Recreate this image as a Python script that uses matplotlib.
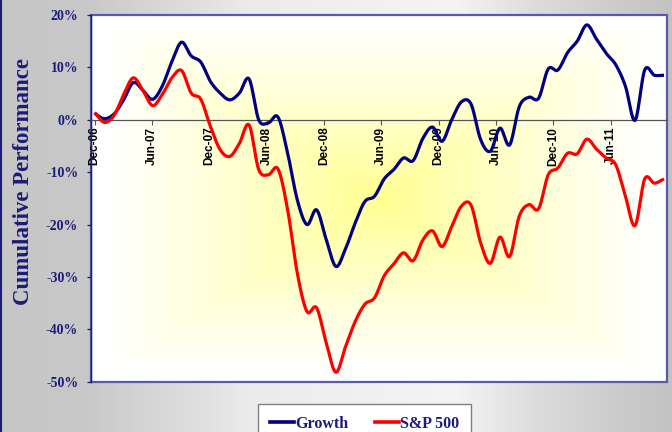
import matplotlib
matplotlib.use("Agg")
import matplotlib.pyplot as plt
import numpy as np
from matplotlib.lines import Line2D
from matplotlib.patches import Rectangle
from matplotlib.ticker import FuncFormatter
from matplotlib.colors import LinearSegmentedColormap

# monthly cumulative performance, Dec-06 .. Nov-11 (%)
growth = [1.2, 0.2, 1.1, 3.8, 7.1, 5.6, 3.9, 6.4, 11.1, 14.8,
          12.2, 11.0, 7.3, 5.1, 3.8, 5.1, 7.8, 0.0, -0.6, 0.5,
          -6.4, -15.3, -20.0, -17.2, -22.9, -28.0, -24.6, -19.7, -15.6, -14.6,
          -11.3, -9.5, -7.3, -7.8, -3.6, -1.4, -4.1, 0.0, 3.4, 3.0,
          -3.8, -6.0, -1.6, -4.8, 2.5, 4.3, 4.1, 9.7, 9.5, 12.8,
          15.0, 18.1, 15.4, 12.7, 10.5, 6.4, -0.1, 9.5, 8.5, 8.5]
sp500 = [1.4, -0.5, 0.8, 4.8, 8.0, 5.6, 2.7, 4.8, 8.0, 9.4,
         5.1, 3.9, -1.3, -5.7, -7.0, -4.5, -1.0, -9.5, -10.5, -9.4,
         -17.2, -29.3, -36.6, -35.9, -42.6, -48.2, -43.3, -38.5, -35.2, -34.0,
         -29.8, -27.5, -25.4, -26.9, -23.0, -21.2, -24.2, -20.4, -16.5, -16.3,
         -23.5, -27.4, -22.4, -26.1, -18.4, -16.2, -17.0, -10.5, -9.2, -6.4,
         -6.5, -3.7, -5.6, -7.3, -8.6, -14.6, -20.2, -11.3, -12.1, -11.3]
tick_labels = ["Dec-06", "Jun-07", "Dec-07", "Jun-08", "Dec-08",
               "Jun-09", "Dec-09", "Jun-10", "Dec-10", "Jun-11"]
y_ticks = [20, 10, 0, -10, -20, -30, -40, -50]

NAVY = "#1c1c78"
SERIF = ["Liberation Serif", "DejaVu Serif"]


def smooth(vals, n=16):
    # Catmull-Rom through the monthly points (Excel "smoothed line" look)
    p = np.asarray(vals, float)
    p = np.concatenate([[2 * p[0] - p[1]], p, [2 * p[-1] - p[-2]]])
    t = np.linspace(0, 1, n, endpoint=False)
    xs, ys = [], []
    for i in range(1, len(p) - 2):
        p0, p1, p2, p3 = p[i - 1:i + 3]
        y = 0.5 * (2 * p1 + (p2 - p0) * t + (2 * p0 - 5 * p1 + 4 * p2 - p3) * t ** 2
                   + (-p0 + 3 * p1 - 3 * p2 + p3) * t ** 3)
        xs.append(i - 1 + t)
        ys.append(y)
    xs.append([len(vals) - 1])
    ys.append([vals[-1]])
    return np.concatenate(xs), np.concatenate(ys)


fig = plt.figure(figsize=(6.72, 4.32), dpi=100)

# figure background: grey -> light -> grey horizontal gradient
bg = fig.add_axes([0, 0, 1, 1], zorder=-5)
bg_cmap = LinearSegmentedColormap.from_list(
    "bg", [(0.0, "#c6c6c6"), (0.13, "#c8c8c8"), (0.38, "#ececec"),
           (0.68, "#f4f4f4"), (0.8, "#dcdcdc"), (1.0, "#c2c2c2")])
bg.imshow(np.linspace(0, 1, 400)[None, :], cmap=bg_cmap, aspect="auto",
          extent=[0, 1, 0, 1])
bg.set_axis_off()
fig.add_artist(Line2D([0.002, 0.002], [0, 1], transform=fig.transFigure,
                      color=NAVY, lw=1.5))

ax = fig.add_axes([0.135, 0.1164, 0.857, 0.8489])
ax.set_facecolor("none")

# yellow "from centre" rectangular gradient in the plot area
gx, gy = np.meshgrid(np.linspace(-1, 1, 300), np.linspace(-1, 1, 300))
tt = np.clip(np.maximum(np.abs(gx), np.abs(gy)) / 0.95, 0, 1)
fill_cmap = LinearSegmentedColormap.from_list("fill", ["#ffff90", "#ffffff"])
ax.imshow(tt ** 0.85, cmap=fill_cmap, extent=[0, 1, 0, 1], transform=ax.transAxes,
          aspect="auto", zorder=0, interpolation="bilinear")
ax.add_patch(Rectangle((0, 0), 1, 1, transform=ax.transAxes, fill=False,
                       ec="#5a5aa8", lw=1.6, clip_on=False, zorder=1.5))

gx_s, gy_s = smooth(growth)
sx_s, sy_s = smooth(sp500)
ax.plot(gx_s, gy_s, color="#000080", lw=2.3, zorder=3, solid_capstyle="butt")
ax.plot(sx_s, sy_s, color="#ff0000", lw=2.3, zorder=3, solid_capstyle="butt")

ax.set_xlim(-0.41, 59.27)
ax.set_ylim(-50, 20)

for side in ("top", "right"):
    ax.spines[side].set_visible(False)
ax.spines["bottom"].set_position(("data", 0))
ax.spines["bottom"].set_color("#555555")
ax.spines["bottom"].set_linewidth(0.9)
ax.spines["left"].set_color(NAVY)
ax.spines["left"].set_linewidth(1.0)

ax.set_xticks(np.arange(len(tick_labels)) * 5.94)
ax.set_xticklabels(tick_labels, rotation=90, fontsize=8.5, fontweight="bold",
                   family=["Liberation Sans", "DejaVu Sans"], va="top")
ax.tick_params(axis="x", length=3.5, width=0.8, color="#555555", pad=1.5)

ax.set_yticks(y_ticks)
ax.yaxis.set_major_formatter(FuncFormatter(lambda v, _: f"{v:.0f}%"))
ax.tick_params(axis="y", length=3, width=0.9, color=NAVY, pad=6,
               labelcolor=NAVY, labelsize=10)
for lab in ax.get_yticklabels():
    lab.set_family(SERIF)
    lab.set_fontweight("bold")

fig.text(0.035, 0.581, "Cumulative Performance", rotation=90, ha="center",
         va="center", color=NAVY, fontsize=16.5, fontweight="bold",
         family=SERIF)

handles = [Line2D([0], [0], color="#000080", lw=2.6),
           Line2D([0], [0], color="#ff0000", lw=2.6)]
leg = fig.legend(handles, ["Growth", "S&P 500"], loc="upper center",
                 bbox_to_anchor=(0.543, 1 - 404 / 432), ncol=2, frameon=True,
                 fancybox=False, edgecolor="#808080", facecolor="white",
                 framealpha=1, handlelength=1.45, handletextpad=0.1,
                 columnspacing=1.7, borderpad=0.75, borderaxespad=0,
                 prop={"family": SERIF, "weight": "bold", "size": 11.5})
leg.get_frame().set_linewidth(1.0)
for txt in leg.get_texts():
    txt.set_color(NAVY)

fig.savefig("out.png", dpi=100)
